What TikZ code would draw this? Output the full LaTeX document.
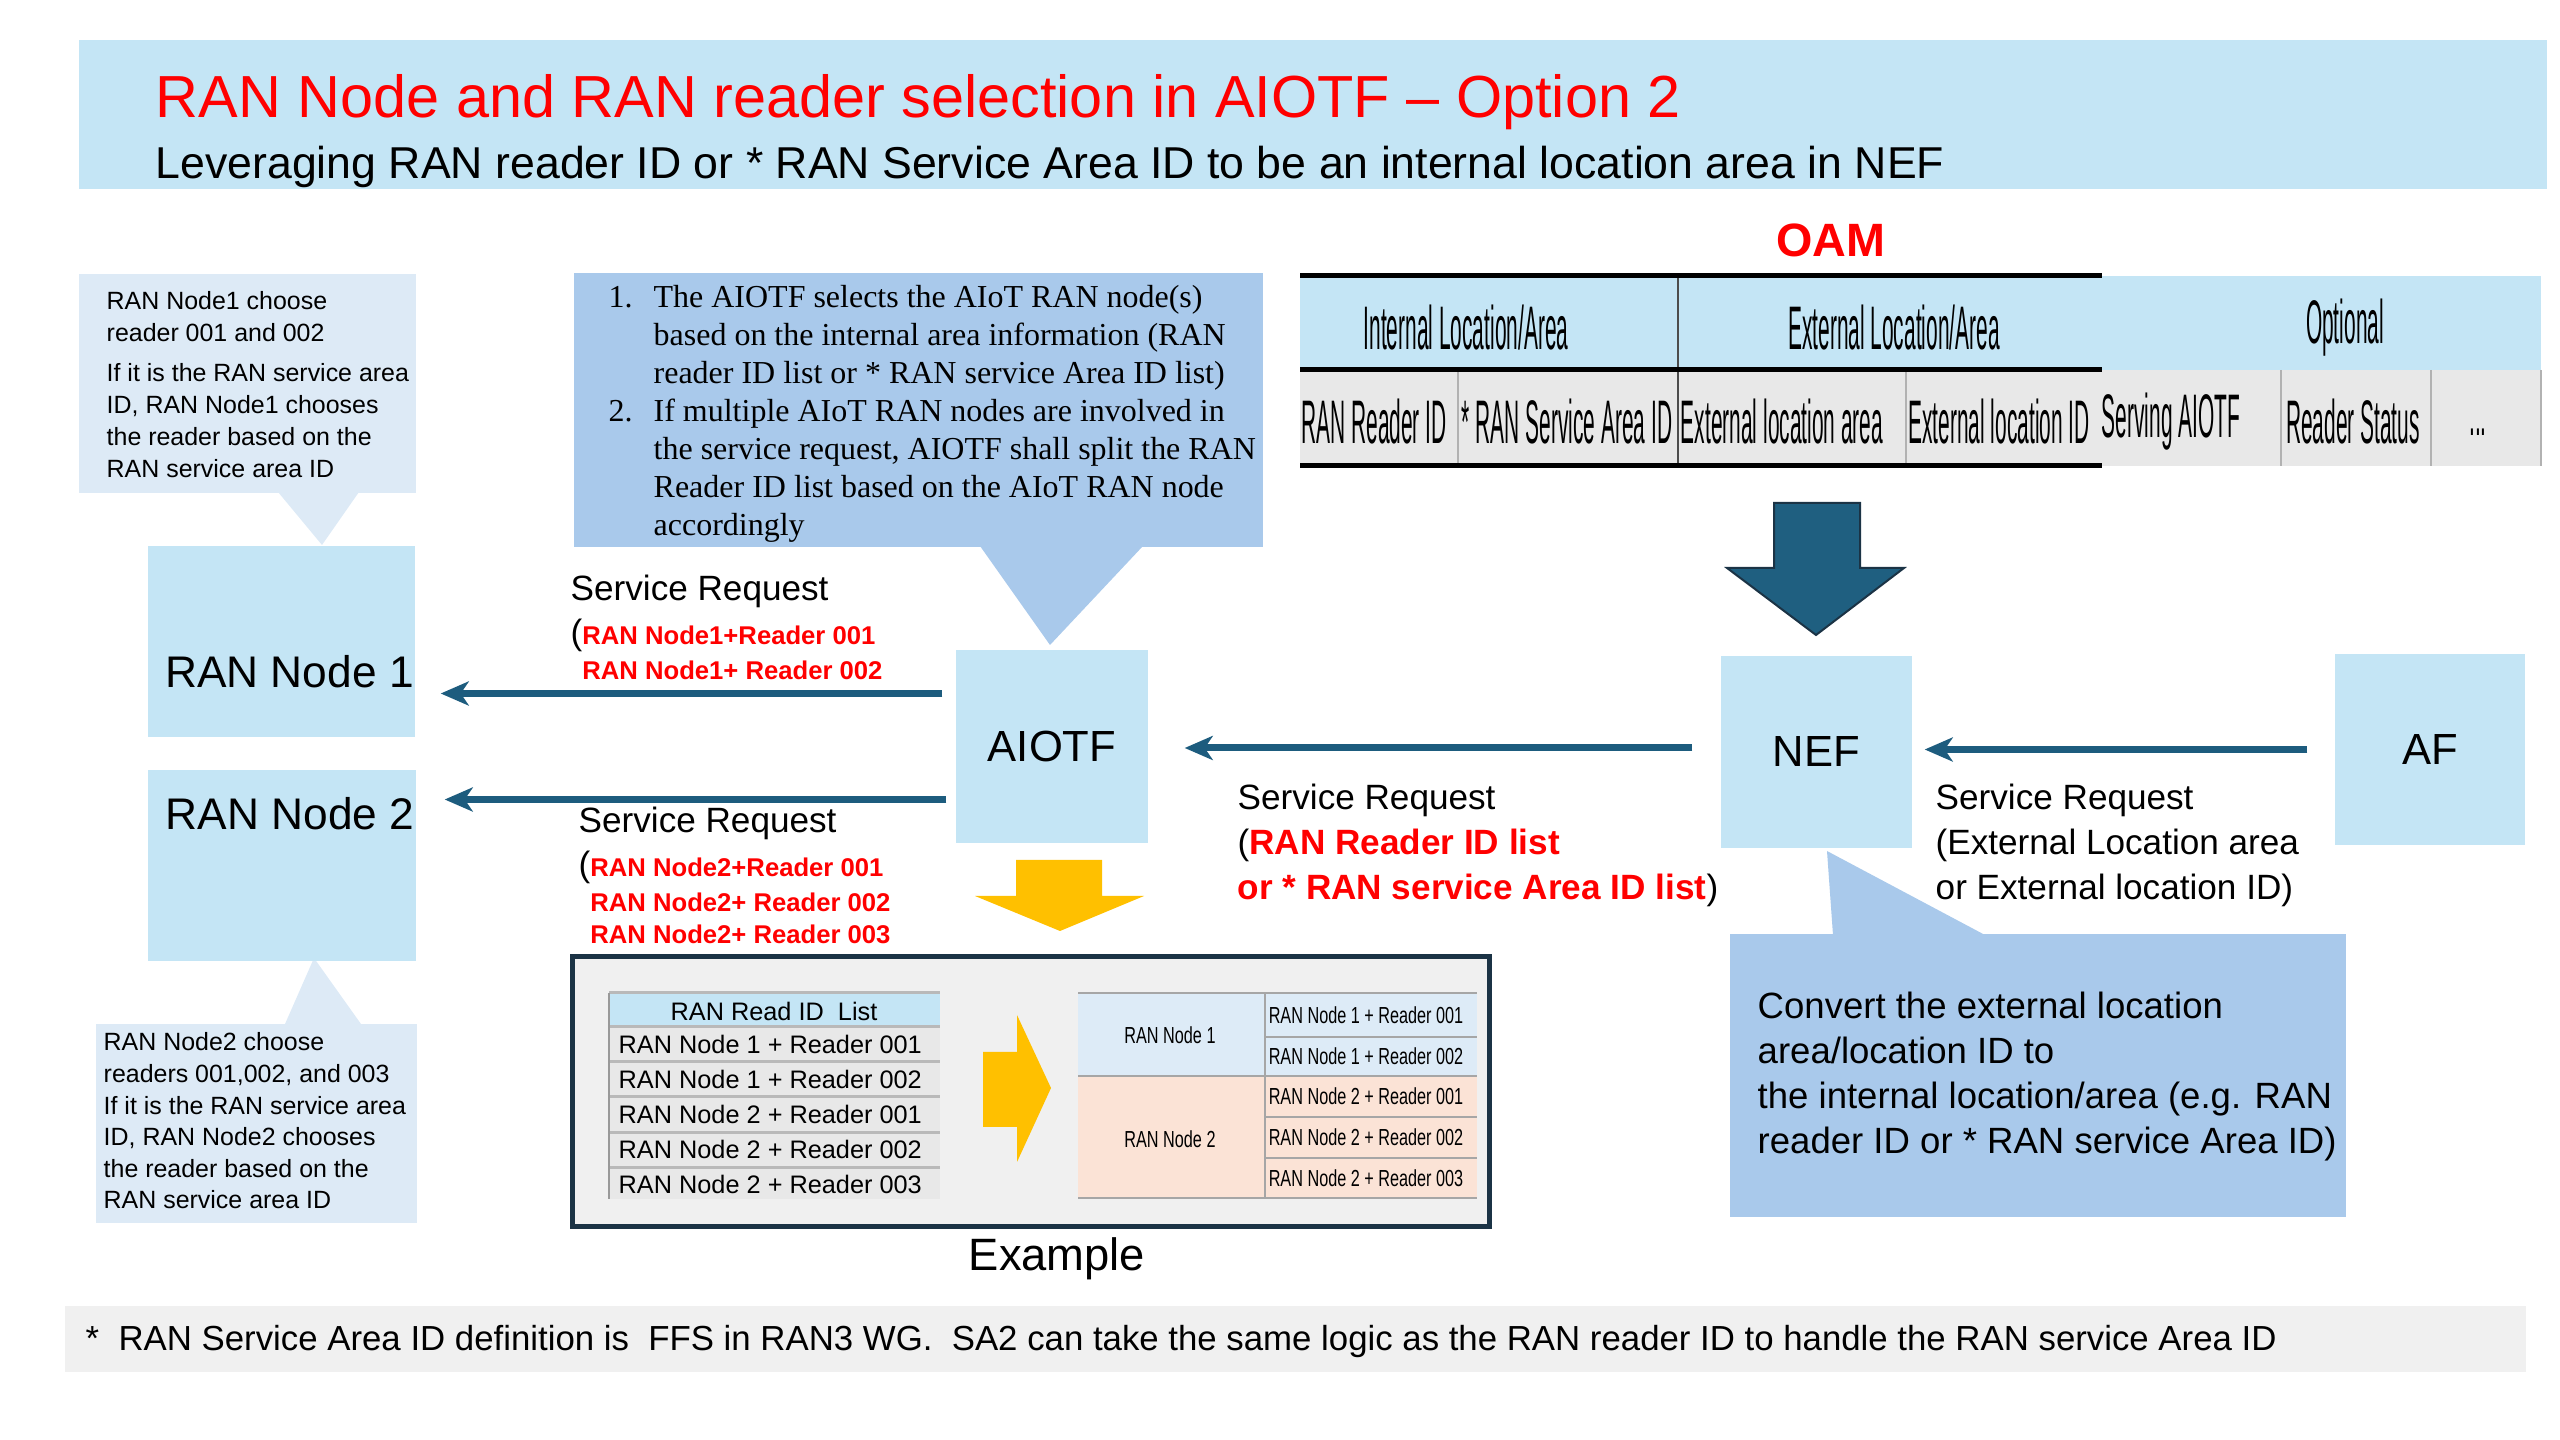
\documentclass[tikz,border=0pt]{standalone}
\usepackage{fontspec}
\setmainfont{Liberation Sans}
\newfontfamily\noteserif{Liberation Serif}
\newfontfamily\oamnarrow[FakeStretch=0.34]{Liberation Sans}
\newfontfamily\cellnarrow[FakeStretch=0.7]{Liberation Sans}
\usetikzlibrary{arrows.meta,calc}
\definecolor{boxblue}{HTML}{C4E5F5}
\definecolor{paleblue}{HTML}{DDEAF6}
\definecolor{noteblue}{HTML}{A9C9EB}
\definecolor{flowteal}{HTML}{1D5C7E}
\definecolor{oamarrow}{HTML}{1F5F80}
\definecolor{gold}{HTML}{FFC000}
\definecolor{lightgrey}{HTML}{F0F0F0}
\definecolor{rowgrey}{HTML}{E8E8E8}
\definecolor{cellblue}{HTML}{DDEBF7}
\definecolor{peach}{HTML}{FBE3D6}
\definecolor{titlered}{HTML}{FF0000}
\definecolor{framenavy}{HTML}{1B3345}
\newcommand{\fs}[2]{\fontsize{#1}{#2}\selectfont}
\newcommand{\redbit}[1]{{\color{titlered}\bfseries\fs{7.3}{9}#1}}
\begin{document}
\begin{tikzpicture}[x=0.1mm, y=-0.1mm,
  box/.style={fill=boxblue, inner sep=0pt},
  flow/.style={draw=flowteal, line width=0.7mm, -{Stealth[length=2.8mm, width=2.4mm, inset=0.8mm]}},
  txt/.style={inner sep=0pt, align=left},
  oamcell/.style={inner sep=0pt, font=\oamnarrow\fs{17.5}{20}},
  cell/.style={inner sep=0pt, font=\cellnarrow\fs{6.6}{8}}]
\useasboundingbox (0,0) rectangle (2560,1440);
% title banner
\fill[boxblue] (79,40) rectangle (2547,189);
\node[txt, anchor=base west, text=titlered, font=\fs{16.9}{20}] (title) at (155,118) {RAN Node and RAN reader selection in AIOTF – Option 2};
\node[txt, anchor=base west, font=\fs{12.7}{15}] (subtitle) at (155,179) {Leveraging RAN reader ID or * RAN Service Area ID to be an internal location area in NEF};
% left notes
\node[fill=paleblue, minimum width=33.7mm, minimum height=21.9mm, inner sep=0pt] (note1) at (247.5,383.5) {};
\fill[paleblue] (278,492) -- (322,545) -- (359,492) -- cycle;
\node[txt, anchor=north west, font=\fs{7.1}{9.1}] (note1txt) at (106,291) {RAN Node1 choose\\ reader 001 and 002\\[2.3pt] If it is the RAN service area\\ ID, RAN Node1 chooses\\ the reader based on the\\ RAN service area ID};
\node[fill=paleblue, minimum width=32.1mm, minimum height=19.9mm, inner sep=0pt] (note2) at (256.5,1123.5) {};
\fill[paleblue] (285,1024) -- (314,958) -- (361,1024) -- cycle;
\node[txt, anchor=north west, font=\fs{7.1}{9}] (note2txt) at (103,1032) {RAN Node2 choose\\ readers 001,002, and 003\\ If it is the RAN service area\\ ID, RAN Node2 chooses\\ the reader based on the\\ RAN service area ID};
% AIOTF note
\node[fill=noteblue, minimum width=68.9mm, minimum height=27.4mm, inner sep=0pt] (note3) at (918.5,410) {};
\fill[noteblue] (980,546) -- (1050,645) -- (1143,546) -- cycle;
\node[inner sep=0pt, anchor=north west, font=\noteserif\fs{9.1}{10.8}] (note3txt) at (608,280) {\begin{tabular}{@{}p{12.8pt}@{}l@{}}
1. & The AIOTF selects the AIoT RAN node(s)\\
   & based on the internal area information (RAN\\
   & reader ID list or * RAN service Area ID list)\\
2. & If multiple AIoT RAN nodes are involved in\\
   & the service request, AIOTF shall split the RAN\\
   & Reader ID list based on the AIoT RAN node\\
   & accordingly
\end{tabular}};
% nodes
\node[box, minimum width=26.7mm, minimum height=19.1mm, label={[font=\fs{12.6}{15}, xshift=0.8mm, yshift=-3mm]center:RAN Node 1}] (ran1) at (281.5,641.5) {};
\node[box, minimum width=26.8mm, minimum height=19.1mm, label={[font=\fs{12.6}{15}, xshift=0.8mm, yshift=5.15mm]center:RAN Node 2}] (ran2) at (282,865.5) {};
\node[box, minimum width=19.2mm, minimum height=19.3mm, font=\fs{12.4}{15}] (aiotf) at (1052,746.5) {AIOTF};
\node[box, minimum width=19.1mm, minimum height=19.2mm, font=\fs{12.4}{15}] (nef) at (1816.5,752) {NEF};
\node[box, minimum width=19.0mm, minimum height=19.1mm, font=\fs{12.4}{15}] (af) at (2430,749.5) {AF};
% service requests
\draw[flow, shorten >=2.5mm] ($(aiotf.west)+(-13,-53)$) coordinate (req1) -- (req1 -| ran1.east);
\draw[flow, shorten >=2.8mm] ($(aiotf.west)+(-9,53)$) coordinate (req2) -- (req2 -| ran2.east);
\draw[flow, shorten >=3.6mm] ($(nef.west)+(-28,-4)$) coordinate (req3) -- (req3 -| aiotf.east);
\draw[flow, shorten >=1.2mm] ($(af.west)+(-27,0)$) coordinate (req4) -- (req4 -| nef.east);
\node[txt, anchor=north west, font=\fs{10}{10.2}] (req1txt) at (570,574) {Service Request\\[2.3pt] (\redbit{RAN Node1+Reader 001}\\ \phantom{(}\redbit{RAN Node1+ Reader 002}};
\node[txt, anchor=north west, font=\fs{10}{10.2}] (req2txt) at (578,806) {Service Request\\[2.3pt] (\redbit{RAN Node2+Reader 001}\\ \phantom{(}\redbit{RAN Node2+ Reader 002}\\[-1.1pt] \phantom{(}\redbit{RAN Node2+ Reader 003}};
\node[txt, anchor=north west, font=\fs{10}{12.8}] (req3txt) at (1237,783) {Service Request\\ ({\color{titlered}\bfseries RAN Reader ID list}\\ {\color{titlered}\bfseries or * RAN service Area ID list})};
\node[txt, anchor=north west, font=\fs{10}{12.8}] (req4txt) at (1935,783) {Service Request\\ (External Location area\\ or External location ID)};
% NEF note
\node[fill=noteblue, minimum width=61.6mm, minimum height=28.3mm, inner sep=0pt] (note4) at (2038,1075.5) {};
\fill[noteblue] (1827,851) -- (1833,935) -- (1985,935) -- cycle;
\node[txt, anchor=north west, font=\fs{10.4}{12.8}] (note4txt) at (1757,991) {Convert the external location\\ area/location ID to\\ the internal location/area (e.g. RAN\\ reader ID or * RAN service Area ID)};
% OAM table
\node[font=\bfseries\fs{13.3}{16}, text=titlered, inner sep=0pt] (oam) at (1831,240) {OAM};
\fill[boxblue] (1300,276) rectangle (2541,370);
\fill[rowgrey] (1300,370) rectangle (2541,466);
\foreach \xl in {1458,1906,2281,2431,2541}
  \draw[gray!60, line width=0.2mm] (\xl,370) -- (\xl,466);
\draw[black!70, line width=0.2mm] (1678,276) -- (1678,466);
\draw[line width=0.5mm] (1300,276) -- (2102,276) (1300,370) -- (2102,370) (1300,466) -- (2102,466);
\node[oamcell] (oamint) at (1466,328) {Internal Location/Area};
\node[oamcell] (oamext) at (1894,328) {External Location/Area};
\node[oamcell] (oamopt) at (2345,328) {Optional};
\foreach \cx/\lbl [count=\i] in {1374/RAN Reader ID, 1567/* RAN Service Area ID, 1782/External location area, 1999/External location ID, 2171/Serving AIOTF, 2353/Reader Status}
  \node[oamcell] (oamcol\i) at (\cx,422) {\lbl};
\node[oamcell] (oamdots) at (2478,432) {...};
\fill[oamarrow, draw=framenavy, line width=0.2mm] (1774,503) -- (1860,503) -- (1860,568) -- (1904,568) -- (1816,635) -- (1727,568) -- (1774,568) -- cycle;
% example
\fill[gold] (1016,860) -- (1102,860) -- (1102,896) -- (1144,896) -- (1060,931) -- (975,896) -- (1016,896) -- cycle;
\node[fill=lightgrey, draw=framenavy, line width=0.5mm, minimum width=91.7mm, minimum height=27mm, inner sep=0pt] (example) at (1030.5,1092) {};
\fill[boxblue] (609,993) rectangle (940,1027);
\fill[rowgrey] (609,1027) rectangle (940,1199);
\foreach \yl in {993,1027,1062,1097,1133,1168}
  \draw[gray!55, line width=0.3mm] (609,\yl) -- (940,\yl);
\draw[gray!80, line width=0.2mm] (609,993) -- (609,1199);
\node[inner sep=0pt, font=\fs{7.2}{9}] (listhead) at (774,1011) {RAN Read ID\ \ List};
\foreach \lbl [count=\i] in {RAN Node 1 + Reader 001, RAN Node 1 + Reader 002, RAN Node 2 + Reader 001, RAN Node 2 + Reader 002, RAN Node 2 + Reader 003}
  \node[inner sep=0pt, anchor=west, font=\fs{7.2}{9}] (listrow\i) at (618,{1009.5+35*\i}) {\lbl};
\fill[gold] (983,1052) -- (1017,1052) -- (1017,1015) -- (1051,1088) -- (1017,1162) -- (1017,1127) -- (983,1127) -- cycle;
\fill[cellblue] (1078,993) rectangle (1477,1076);
\fill[peach] (1078,1076) rectangle (1477,1198);
\draw[gray!70, line width=0.25mm] (1078,993) -- (1477,993) (1078,1076) -- (1477,1076) (1078,1198) -- (1477,1198)
  (1265,993) -- (1265,1198) (1265,1037) -- (1477,1037) (1265,1117) -- (1477,1117) (1265,1158) -- (1477,1158);
\node[cell] (split1) at (1170,1035) {RAN Node 1};
\node[cell] (split2) at (1170,1139) {RAN Node 2};
\foreach \cy/\lbl [count=\i] in {1015/RAN Node 1 + Reader 001, 1056.5/RAN Node 1 + Reader 002, 1096.5/RAN Node 2 + Reader 001, 1137.5/RAN Node 2 + Reader 002, 1178/RAN Node 2 + Reader 003}
  \node[cell] (splitrow\i) at (1366,\cy) {\lbl};
\node[inner sep=0pt, font=\fs{12.9}{15}] (examplelbl) at (1057,1259) {Example};
% footnote
\fill[lightgrey] (65,1306) rectangle (2526,1372);
\node[txt, anchor=base west, font=\fs{9.9}{12}] (footnote) at (85,1350) {*\ \ RAN Service Area ID definition is\ \ FFS in RAN3 WG.\ \ SA2 can take the same logic as the RAN reader ID to handle the RAN service Area ID};
\end{tikzpicture}
\end{document}
